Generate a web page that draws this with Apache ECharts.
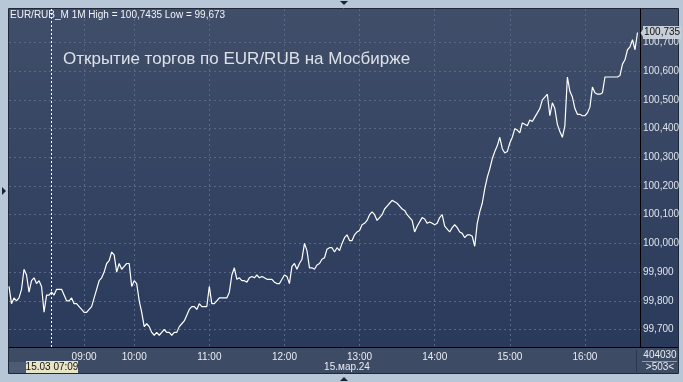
<!DOCTYPE html>
<html>
<head>
<meta charset="utf-8">
<style>
html,body{margin:0;padding:0;background:#b8c7d7;}
#chart{width:683px;height:382px;}
</style>
<script src="https://cdn.jsdelivr.net/npm/echarts@6/dist/echarts.min.js"></script>
</head>
<body>
<div id="chart"></div>
<script>
// ---- data ----
const headerText = 'EUR/RUB_M 1M High = 100,7435 Low = 99,673';
const titleText = 'Открытие торгов по EUR/RUB на Мосбирже';
const dateText = '15.мар.24';
const cursorTime = '07:09';
const cursorText = '15.03 07:09';
const lastPrice = 100.735;
const hourLabels = ['09:00','10:00','11:00','12:00','13:00','14:00','15:00','16:00'];
const yTicks = [99.7,99.8,99.9,100.0,100.1,100.2,100.3,100.4,100.5,100.6,100.7];

// bar times before 10:00 (sparse trading)
const preTimes = ['06:50','06:51','06:52','06:53','06:54','06:55','06:56','06:57','06:58','06:59',
  '07:00','07:01','07:02','07:03','07:04','07:05','07:06','07:09',
  '07:14','07:20','07:27','07:35','07:44','07:52','08:03','08:15','08:24','08:33','08:45','08:53',
  '09:00','09:03','09:06','09:09','09:12','09:15','09:18','09:21','09:24','09:27','09:30',
  '09:33','09:36','09:39','09:42','09:45','09:48','09:51','09:54','09:57'];
const sessionStart = '10:00', sessionEnd = '16:44', sessionStepMin = 2;

const valsPre = [99.85,99.79,99.81,99.80,99.81,99.84,99.91,99.89,99.83,99.87,
  99.88,99.86,99.87,99.85,99.76,99.82,99.82,99.83,99.82,99.84,
  99.84,99.84,99.82,99.80,99.80,99.81,99.79,99.79,99.78,99.77,
  99.76,99.76,99.77,99.78,99.81,99.84,99.87,99.88,99.90,99.93,
  99.94,99.97,99.96,99.90,99.93,99.91,99.92,99.93,99.93,99.85];
const vals10 = [99.87,99.86,99.80,99.76,99.71,99.72,99.71,99.69,99.68,99.69,
  99.68,99.69,99.70,99.69,99.69,99.68,99.69,99.69,99.71,99.72,
  99.73,99.75,99.77,99.78,99.78,99.77,99.79,99.78,99.78,99.78];
const vals11 = [99.85,99.79,99.79,99.80,99.81,99.81,99.81,99.81,99.83,99.89,
  99.915,99.875,99.88,99.87,99.87,99.865,99.88,99.885,99.88,99.89,
  99.88,99.885,99.88,99.875,99.875,99.875,99.865,99.86,99.86,99.875];
const vals12 = [99.89,99.885,99.86,99.92,99.93,99.91,99.93,99.945,100.00,99.975,
  99.915,99.915,99.91,99.925,99.93,99.945,99.95,99.98,99.985,99.985,
  99.97,99.985,99.975,100.00,100.02,100.03,100.01,100.01,100.03,100.04];
const vals13 = [100.045,100.065,100.07,100.08,100.10,100.11,100.10,100.08,100.09,100.10,
  100.12,100.13,100.14,100.15,100.145,100.14,100.13,100.12,100.115,100.10,
  100.09,100.08,100.04,100.06,100.075,100.09,100.085,100.07,100.075,100.07];
const vals14 = [100.065,100.07,100.09,100.10,100.06,100.05,100.04,100.055,100.065,100.055,
  100.04,100.035,100.02,100.03,100.03,100.025,99.99,100.07,100.11,100.14,
  100.19,100.23,100.26,100.295,100.32,100.34,100.37,100.33,100.315,100.32];
const vals15 = [100.35,100.37,100.40,100.395,100.385,100.42,100.415,100.41,100.43,100.425,
  100.44,100.455,100.47,100.50,100.51,100.52,100.445,100.49,100.47,100.415,
  100.39,100.37,100.41,100.58,100.53,100.51,100.47,100.45,100.45,100.445];
const vals16 = [100.445,100.455,100.475,100.545,100.525,100.52,100.52,100.525,100.58,100.58,
  100.58,100.58,100.58,100.58,100.585,100.625,100.64,100.675,100.685,100.71,
  100.675,100.735];

// ---- build ----
function toMin(t){const p=t.split(':');return +p[0]*60+ +p[1];}
function toStr(m){const h=Math.floor(m/60),mm=m%60;return (h<10?'0':'')+h+':'+(mm<10?'0':'')+mm;}
const categories = preTimes.slice();
for(let m=toMin(sessionStart); m<=toMin(sessionEnd); m+=sessionStepMin) categories.push(toStr(m));
const values = [].concat(valsPre, vals10, vals11, vals12, vals13, vals14, vals15, vals16);

const fmt = v => v.toFixed(3).replace('.', ',');
const FONT = 'Liberation Sans, Arial, sans-serif';
const isHour = (i, v) => hourLabels.indexOf(v) >= 0;

const chart = echarts.init(document.getElementById('chart'), null, {renderer:'canvas'});
chart.setOption({
  animation:false,
  backgroundColor:'#b8c7d7',
  textStyle:{fontFamily:FONT},
  grid:{left:9, right:43, top:9, bottom:35, containLabel:false},
  xAxis:{
    type:'category', data:categories, boundaryGap:false,
    axisLine:{show:false}, axisTick:{show:false},
    axisLabel:{interval:isHour, color:'#e9edf3', fontSize:10, margin:5, fontFamily:FONT},
    splitLine:{show:true, interval:isHour, lineStyle:{color:'#58678a', width:1, type:[2,3]}}
  },
  yAxis:{
    type:'value', position:'right', scale:true,
    min:99.639, max:100.817,
    axisLine:{show:true, lineStyle:{color:'#000', width:1}},
    axisTick:{show:false, customValues:yTicks},
    axisLabel:{customValues:yTicks, formatter:fmt, color:'#dfe4ec', fontSize:10, margin:3, fontFamily:FONT},
    splitLine:{show:true, lineStyle:{color:'#58678a', width:1, type:[2,3]}}
  },
  series:[{
    type:'line', data:values, symbol:'none', silent:true, clip:false,
    lineStyle:{color:'#ffffff', width:1.2},
    markLine:{
      silent:true, symbol:['none','none'], animation:false,
      data:[
        {xAxis:cursorTime, lineStyle:{color:'#ffffff', width:1, type:[2,2]}, label:{show:false}}
      ]
    },
    markPoint:{
      silent:true, symbol:'rect', symbolSize:[0,0], animation:false,
      data:[{coord:[categories.length-1, lastPrice], value:lastPrice,
        label:{show:true, position:'right', distance:3, formatter:p=>fmt(p.value),
          color:'#111', fontSize:10, fontFamily:FONT,
          backgroundColor:'#c6ced8', padding:[2,1,1,1]}}]
    }
  }],
  graphic:[
    {type:'rect', z:-10, shape:{x:9,y:9,width:669,height:338},
      style:{fill:new echarts.graphic.LinearGradient(0,0,0,1,[{offset:0,color:'#404e69'},{offset:1,color:'#2a3a5b'}])}},
    {type:'rect', z:-10, shape:{x:9,y:347,width:669,height:26}, style:{fill:'#3e4b64'}},
    {type:'rect', z:-9, shape:{x:9,y:362,width:17,height:11}, style:{fill:'#4e5b74'}},
    {type:'rect', z:-10, shape:{x:8.5,y:8.5,width:670,height:365}, style:{fill:null, stroke:'#1f2738', lineWidth:1}},
    {type:'line', z:50, shape:{x1:9,y1:347.5,x2:678,y2:347.5}, style:{stroke:'#000', lineWidth:1}},
    {type:'line', z:50, shape:{x1:636.5,y1:350,x2:636.5,y2:372}, style:{stroke:'#2b3650', lineWidth:1}},
    {type:'line', z:50, shape:{x1:642,y1:361.5,x2:677,y2:361.5}, style:{stroke:'#8e9ab0', lineWidth:1}},
    {type:'polygon', z:50, shape:{points:[[640.5,33],[643.5,28.5],[643.5,37.5]]}, style:{fill:'#c6ced8'}},
    {type:'text', z:50, style:{x:10, y:15, text:headerText, fill:'#f2f4f8', font:'10px '+FONT, textVerticalAlign:'middle'}},
    {type:'text', z:50, style:{x:63, y:59, text:titleText, fill:'#dde1e8', font:'17px '+FONT, textVerticalAlign:'middle'}},
    {type:'text', z:50, style:{x:347, y:367, text:dateText, fill:'#e9edf3', font:'10px '+FONT, textAlign:'center', textVerticalAlign:'middle'}},
    {type:'text', z:50, style:{x:660, y:355, text:'404030', fill:'#e9edf3', font:'10px '+FONT, textAlign:'center', textVerticalAlign:'middle'}},
    {type:'text', z:50, style:{x:660, y:367, text:'>503<', fill:'#e9edf3', font:'10px '+FONT, textAlign:'center', textVerticalAlign:'middle'}},
    {type:'rect', z:50, shape:{x:26,y:361,width:52,height:12}, style:{fill:'#e8e4c6'}},
    {type:'text', z:51, style:{x:52, y:367, text:cursorText, fill:'#141414', font:'10px '+FONT, textAlign:'center', textVerticalAlign:'middle'}},
    {type:'polygon', z:50, shape:{points:[[340,1],[348,1],[344,5]]}, style:{fill:'#1b2232'}},
    {type:'polygon', z:50, shape:{points:[[340,381],[348,381],[344,377]]}, style:{fill:'#1b2232'}},
    {type:'polygon', z:50, shape:{points:[[2,187],[6,191],[2,195]]}, style:{fill:'#1b2232'}}
  ]
});
</script>
</body>
</html>
